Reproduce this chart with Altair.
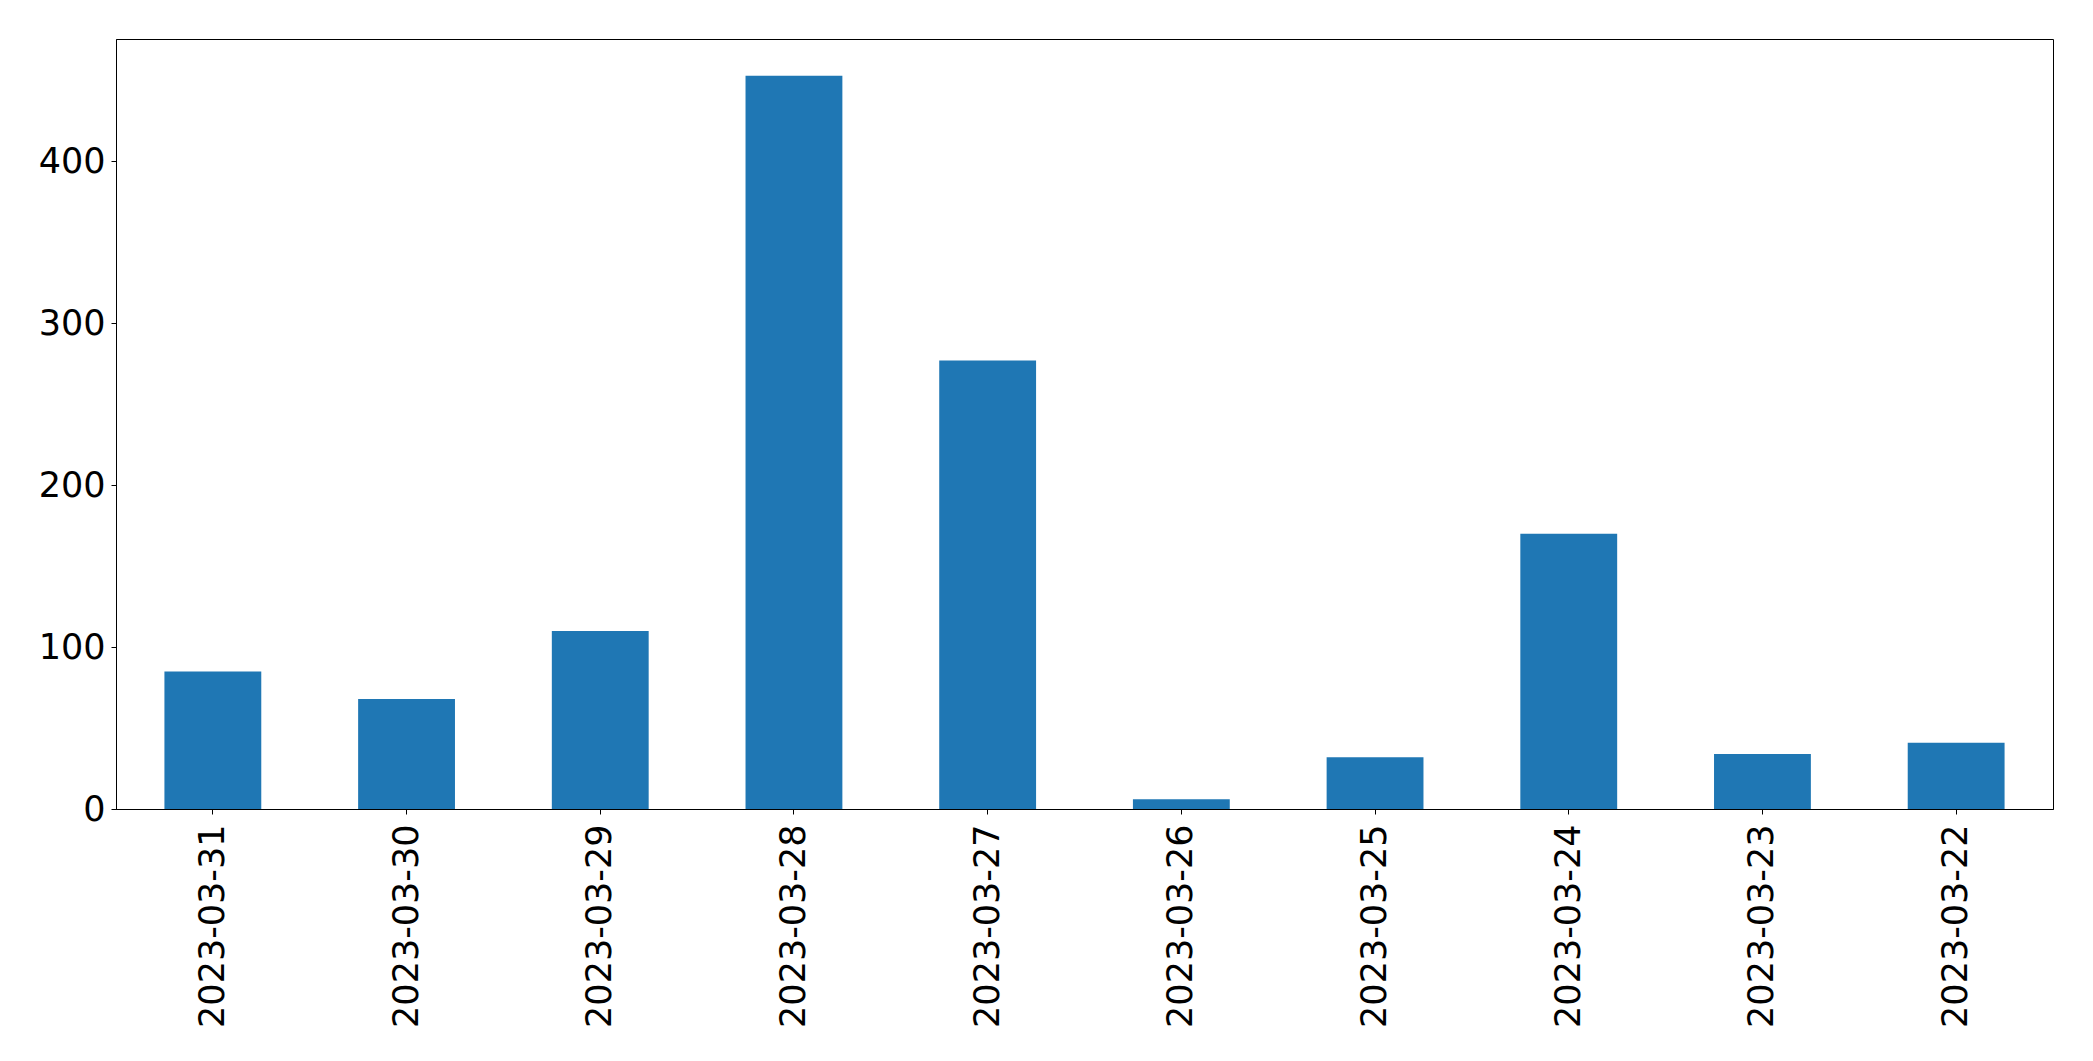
import altair as alt
import pandas as pd

dates = ["2023-03-31", "2023-03-30", "2023-03-29", "2023-03-28", "2023-03-27",
         "2023-03-26", "2023-03-25", "2023-03-24", "2023-03-23", "2023-03-22"]
counts = [85, 68, 110, 453, 277, 6, 32, 170, 34, 41]
y_ticks = [0, 100, 200, 300, 400]

df = pd.DataFrame({"date": dates, "count": counts})

FONT = "DejaVu Sans"

chart = alt.Chart(df).mark_bar(color="#1f77b4").encode(
    x=alt.X("date:N", sort=None, title=None,
            scale=alt.Scale(paddingInner=0.5, paddingOuter=0.25),
            axis=alt.Axis(labelAngle=270, labelAlign="right", labelBaseline="middle",
                          labelFontSize=35, labelFont=FONT, labelColor="black",
                          labelLimit=0, labelOverlap=False,
                          labelPadding=10, tickSize=5, tickColor="black", tickWidth=1,
                          domainColor="black", domainWidth=1, grid=False)),
    y=alt.Y("count:Q", title=None,
            scale=alt.Scale(domain=[0, 475.65], nice=False, zero=True),
            axis=alt.Axis(values=y_ticks, labelFontSize=35, labelFont=FONT, labelColor="black",
                          labelPadding=6, tickSize=5, tickColor="black", tickWidth=1,
                          domainColor="black", domainWidth=1, grid=False)),
).properties(
    width=1937,
    height=770,
    background="white",
    autosize=alt.AutoSizeParams(type="none"),
    padding={"left": 108, "top": 31, "right": 32, "bottom": 244},
).configure_view(
    stroke="black",
    strokeWidth=1,
)

chart.save("out.html", embed_options={"renderer": "svg", "actions": False})
